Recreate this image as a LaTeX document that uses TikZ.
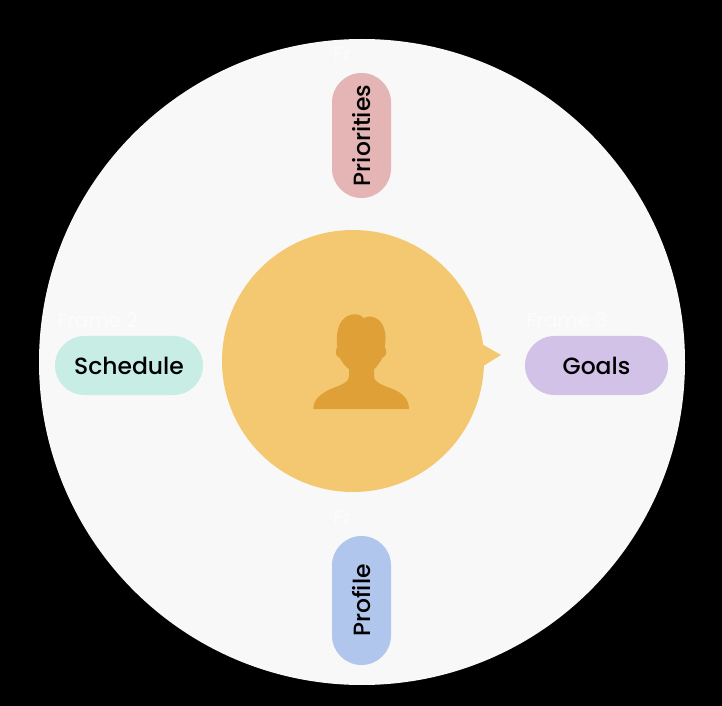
\documentclass[tikz,border=0pt]{standalone}
\usepackage{fontspec}
\setmainfont{Poppins}
\newfontfamily\pillfont{Poppins Medium}
\usetikzlibrary{shapes.misc}
\definecolor{plate}{HTML}{F8F8F8}
\definecolor{hub}{HTML}{F4C871}
\definecolor{person}{HTML}{DFA038}
\definecolor{rosepill}{HTML}{E5B5B5}
\definecolor{bluepill}{HTML}{B0C6EC}
\definecolor{mintpill}{HTML}{C8EDE5}
\definecolor{lilacpill}{HTML}{D2C2E8}
\tikzset{
  pill/.style={rounded rectangle,draw=none,inner sep=0pt,minimum height=44.25pt,text=black,font=\pillfont\fontsize{17.6}{20}\selectfont},
  faint/.style={text=white,font=\fontsize{15}{18}\selectfont,inner sep=0pt,anchor=west,opacity=.65},
}
\begin{document}
\begin{tikzpicture}[x=0.75pt,y=-0.75pt]
\useasboundingbox (0,0) rectangle (722,706);
\fill[black] (0,0) rectangle (722,706);
\node[circle,fill=plate,draw=none,inner sep=0pt,minimum size=484.5pt] (plate) at (362,362) {};
\node[faint] (f1) at (333,55) {Fr};
\node[faint] (f2) at (57,320) {Frame 2};
\node[faint] (f3) at (526,320) {Frame 3};
\node[faint] (f4) at (333,518) {Fr};
\fill[hub] (480,343) -- (501,355) -- (480,368) -- cycle;
\node[circle,fill=hub,draw=none,inner sep=0pt,minimum size=196.5pt] (hub) at (353,361) {};
\begin{scope}[shift={(300,290)},x=0.25pt,y=-0.25pt]
\fill[person] (40,357) .. controls (40,330) and (60,312) .. (90,298)
  .. controls (115,287) and (147,280) .. (147,258) -- (147,238)
  .. controls (135,228) and (125,215) .. (119,203)
  .. controls (106,200) and (103,182) .. (112,172)
  .. controls (105,125) and (118,73) .. (165,73)
  .. controls (178,73) and (187,78) .. (192,85)
  .. controls (200,78) and (212,78) .. (222,82)
  .. controls (252,92) and (262,130) .. (254,172)
  .. controls (263,182) and (260,200) .. (247,203)
  .. controls (242,215) and (232,228) .. (222,238) -- (222,258)
  .. controls (222,280) and (255,287) .. (280,298)
  .. controls (310,310) and (327,330) .. (327,357) -- cycle;
\end{scope}
\node[pill,fill=rosepill,rotate=90,minimum width=93.75pt] (priorities) at (361.5,135.5) {Priorities};
\node[pill,fill=bluepill,rotate=90,minimum width=96.75pt] (profile) at (361.5,600.5) {Profile};
\node[pill,fill=mintpill,minimum width=111pt] (schedule) at (129,365.5) {Schedule};
\node[pill,fill=lilacpill,minimum width=107.25pt] (goals) at (596.5,365.5) {Goals};
\end{tikzpicture}
\end{document}
